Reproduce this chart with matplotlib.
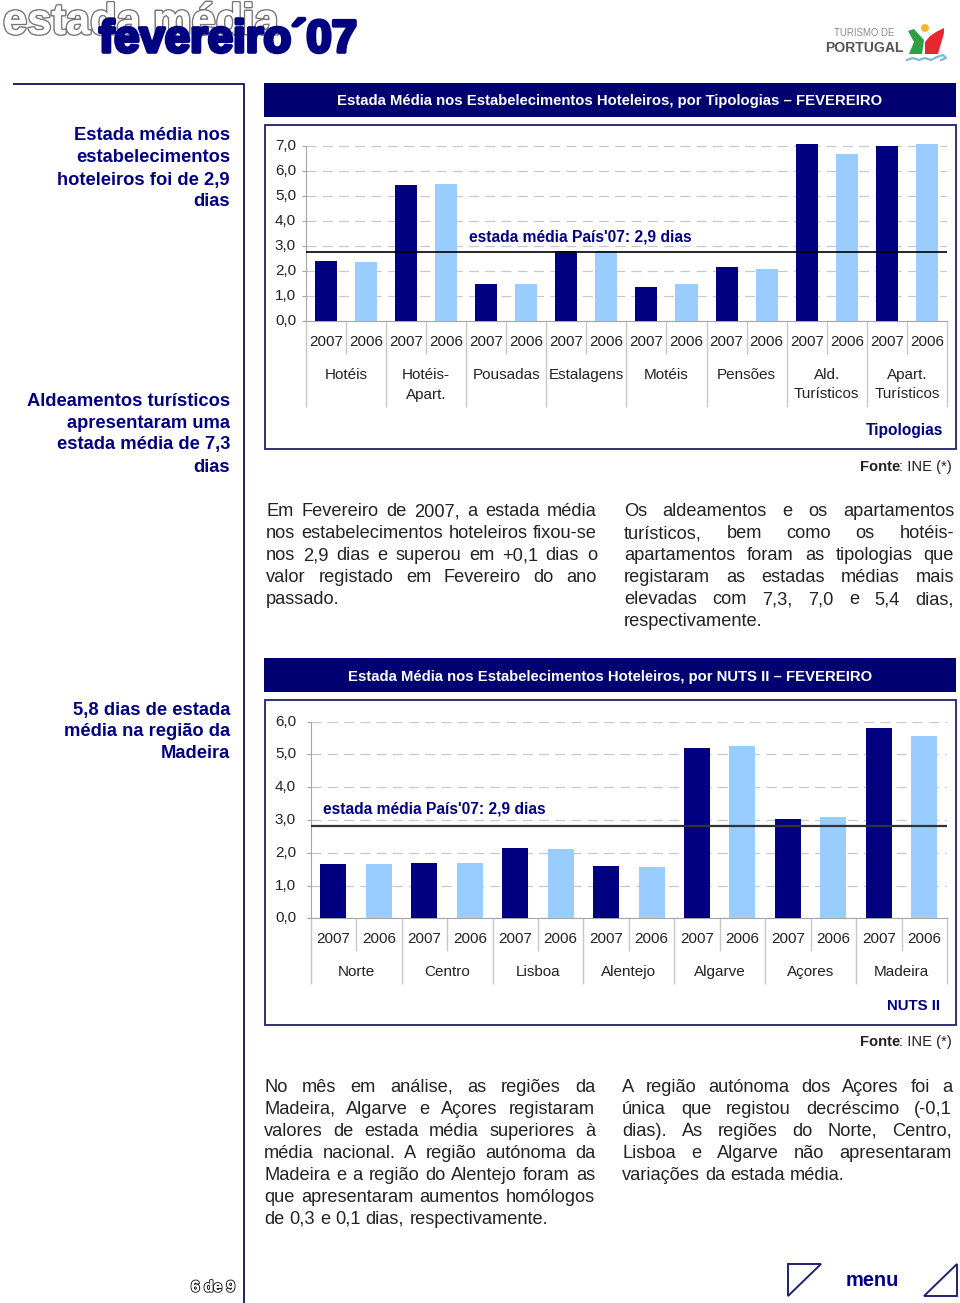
import matplotlib
matplotlib.use("Agg")
import matplotlib.pyplot as plt
import matplotlib.patheffects as pe
from matplotlib.patches import Polygon, Rectangle, Circle
from matplotlib.transforms import ScaledTranslation

W, H = 960, 1303
NAVY = "#000080"
LIGHT = "#99ccff"
FRAME = "#20206e"
GRID = "#c8c8c8"
AXIS = "#a6a6a6"
TEXT = "#222222"

# dados
tip_groups = ["Hotéis", "Hotéis-\nApart.", "Pousadas", "Estalagens", "Motéis", "Pensões", "Ald.\nTurísticos", "Apart.\nTurísticos"]
tip_2007 = [2.41, 5.45, 1.48, 2.80, 1.37, 2.15, 7.10, 7.00]
tip_2006 = [2.36, 5.50, 1.48, 2.80, 1.48, 2.08, 6.67, 7.10]
tip_ticks = [0, 1, 2, 3, 4, 5, 6, 7]
tip_media = 2.75

nuts_groups = ["Norte", "Centro", "Lisboa", "Alentejo", "Algarve", "Açores", "Madeira"]
nuts_2007 = [1.65, 1.70, 2.15, 1.60, 5.21, 3.04, 5.80]
nuts_2006 = [1.65, 1.70, 2.10, 1.56, 5.26, 3.08, 5.56]
nuts_ticks = [0, 1, 2, 3, 4, 5, 6]
nuts_media = 2.82

years = ["2007", "2006"]
media_label = "estada média País'07: 2,9 dias"

title_tip = "Estada Média nos Estabelecimentos Hoteleiros, por Tipologias – FEVEREIRO"
title_nuts = "Estada Média nos Estabelecimentos Hoteleiros, por NUTS II – FEVEREIRO"

side_1 = ["Estada média nos", "estabelecimentos", "hoteleiros foi de 2,9", "dias"]
side_2 = ["Aldeamentos turísticos", "apresentaram uma", "estada média de 7,3", "dias"]
side_3 = ["5,8 dias de estada", "média na região da", "Madeira"]

body_1 = ["Em Fevereiro de 2007, a estada média", "nos estabelecimentos hoteleiros fixou-se",
          "nos 2,9 dias e superou em +0,1 dias o", "valor registado em Fevereiro do ano", "passado."]
body_2 = ["Os aldeamentos e os apartamentos", "turísticos, bem como os hotéis-",
          "apartamentos foram as tipologias que", "registaram as estadas médias mais",
          "elevadas com 7,3, 7,0 e 5,4 dias,", "respectivamente."]
body_3 = ["No mês em análise, as regiões da", "Madeira, Algarve e Açores registaram",
          "valores de estada média superiores à", "média nacional. A região autónoma da",
          "Madeira e a região do Alentejo foram as", "que apresentaram aumentos homólogos",
          "de 0,3 e 0,1 dias, respectivamente."]
body_4 = ["A região autónoma dos Açores foi a", "única que registou decréscimo (-0,1",
          "dias). As regiões do Norte, Centro,", "Lisboa e Algarve não apresentaram",
          "variações da estada média."]

plt.rcParams["font.family"] = ["Liberation Sans", "DejaVu Sans"]

fig = plt.figure(figsize=(W / 100, H / 100), dpi=100)
bg = fig.add_axes([0, 0, 1, 1])
bg.set_xlim(0, W)
bg.set_ylim(H, 0)
bg.axis("off")


def px(size):
    return size * 0.72


def justified(lines, x0, x1, y0, step=22, size=18.3):
    renderer = fig.canvas.get_renderer()
    for i, line in enumerate(lines):
        words = line.split()
        items = [bg.text(x0, y0 + i * step, w, fontsize=px(size), color=TEXT, va="center") for w in words]
        widths = [t.get_window_extent(renderer).width for t in items]
        if i == len(lines) - 1 or len(words) < 2:
            gap = size * 0.278
        else:
            gap = (x1 - x0 - sum(widths)) / (len(words) - 1)
        x = x0
        for t, w in zip(items, widths):
            t.set_x(x)
            x += w + gap


def chart(left, right, y0, y_top, ymax, groups, v07, v06, ticks, media, line_kw, label_x, label_px, bar_w,
          minor_px, major_px, second_px, tick_right):
    ax = fig.add_axes([left / W, 1 - y0 / H, (right - left) / W, (y0 - y_top) / H])
    ax.patch.set_alpha(0)
    n = len(groups)
    pos07 = [2 * i for i in range(n)]
    pos06 = [2 * i + 1 for i in range(n)]
    ax.bar(pos07, v07, width=bar_w, color=NAVY, zorder=3)
    ax.bar(pos06, v06, width=bar_w, color=LIGHT, zorder=3)
    ax.axhline(media, zorder=4, **line_kw)
    ax.set_xlim(-0.5, 2 * n - 0.5)
    ax.set_ylim(0, ymax)
    ax.set_yticks(ticks)
    ax.set_yticklabels([f"{t},0" for t in ticks], fontsize=px(15.2), color=TEXT)
    ax.tick_params(axis="y", length=px(4), width=0.8, color=AXIS, pad=px(left - tick_right - 4))
    up = ScaledTranslation(0, 1.5 / 100, fig.dpi_scale_trans)
    for lab in ax.get_yticklabels():
        lab.set_transform(lab.get_transform() + up)
    ax.grid(axis="y", color=GRID, linewidth=0.9, linestyle=(0, (8, 5)), zorder=1)
    ax.set_axisbelow(True)
    for s in ["top", "right"]:
        ax.spines[s].set_visible(False)
    ax.spines["left"].set_color(AXIS)
    ax.spines["left"].set_bounds(ticks[0], ticks[-1])
    ax.spines["bottom"].set_color(AXIS)

    # anos e separadores por baixo do eixo
    slots = pos07 + pos06
    ax.set_xticks(sorted(slots))
    ax.set_xticklabels(years * n, fontsize=px(15.2), color=TEXT)
    ax.tick_params(axis="x", length=0, pad=px(14))
    h = y0 - y_top
    sep_major = [2 * i - 0.5 for i in range(n + 1)]
    sep_minor = [2 * i + 0.5 for i in range(n)]
    ax.vlines(sep_minor, 0, -minor_px / h, transform=ax.get_xaxis_transform(), color=GRID, lw=1, clip_on=False)
    ax.vlines(sep_major, 0, -major_px / h, transform=ax.get_xaxis_transform(), color=GRID, lw=1, clip_on=False)
    for i, g in enumerate(groups):
        ax.annotate(g, xy=(2 * i + 0.5, 0), xycoords=("data", "axes fraction"), xytext=(0, -second_px),
                    textcoords="offset pixels", ha="center", va="top", fontsize=px(15.2), color=TEXT,
                    linespacing=1.5)
    ax.text(label_x, label_px, media_label, transform=bg.transData, color=NAVY, fontweight="bold",
            fontsize=px(15.6), va="center", zorder=5)
    return ax


# titulo e logo
bg.text(3, 34, "estada média", fontsize=px(43.5), fontweight="bold",
        color="white", va="baseline", ha="left",
        path_effects=[pe.withStroke(linewidth=2.2, foreground="#777777"), pe.Normal()])
bg.text(99, 52, "fevereiro´07", fontsize=px(45.5), fontweight="bold",
        color=NAVY, va="baseline", ha="left",
        path_effects=[pe.withStroke(linewidth=2.6, foreground=NAVY)])

bg.text(894, 33, "TURISMO DE", fontsize=px(9.6), color="#8a8a8a", ha="right", va="center")
bg.text(904, 48, "PORTUGAL", fontsize=px(14), color="#555555", fontweight="bold", ha="right", va="center")
bg.add_patch(Circle((925, 28), 4, color="#f2b632", lw=0))
bg.add_patch(Polygon([(908, 31), (914, 29), (924, 40), (922, 54), (909, 54), (914, 42)], color="#2f9e44", lw=0))
bg.add_patch(Polygon([(944, 28), (944, 33), (938, 54), (925, 54), (925, 42), (930, 36), (936, 32)], color="#e8262d", lw=0))
bg.plot([907, 913, 919, 925, 931, 937, 943, 946, 941], [60, 58, 60, 58, 60, 57, 55, 58, 60], color="#7cb8d8", lw=1.6)

# linhas da coluna esquerda
bg.plot([14, 244, 244], [84, 84, H], color=FRAME, lw=1.4)

# cabecalhos e molduras
for y, title, cx in [(83, title_tip, 610), (658, title_nuts, 610)]:
    bg.add_patch(Rectangle((264, y), 692, 34, color="#000070", lw=0))
    bg.text(cx, y + 18.5, title, color="white", fontweight="bold", fontsize=px(14.85), ha="center", va="center")
for y0, y1 in [(125, 449), (700, 1025)]:
    bg.add_patch(Rectangle((265, y0), 690.5, y1 - y0, fill=False, edgecolor=FRAME, lw=1.3))

# graficos
chart(305.8, 947, 321, 143.5, 7.1, tip_groups, tip_2007, tip_2006, tip_ticks, tip_media,
      dict(color="black", linewidth=1.2), 469, 237, 0.55, 33, 86, 47, 296)
chart(310.7, 947, 918.3, 721.7, 6.0, nuts_groups, nuts_2007, nuts_2006, nuts_ticks, nuts_media,
      dict(color="#333333", linewidth=1.6), 323, 809, 0.572, 33, 66, 47, 296)

bg.text(943, 431, "Tipologias", color=NAVY, fontweight="bold", fontsize=px(15.5), ha="right", va="center")
bg.text(940, 1006, "NUTS II", color=NAVY, fontweight="bold", fontsize=px(15), ha="right", va="center")
for y in [467, 1042]:
    bg.text(860, y, "Fonte", color=TEXT, fontweight="bold", fontsize=px(14.8), ha="left", va="center")
    bg.text(952, y, ": INE (*)", color=TEXT, fontsize=px(14.8), ha="right", va="center")

# textos laterais
for lines, y0 in [(side_1, 136), (side_2, 401), (side_3, 710)]:
    for i, s in enumerate(lines):
        bg.text(230, y0 + i * 22, s, color=NAVY, fontweight="bold", fontsize=px(18.4), ha="right", va="center")

justified(body_1, 266, 597, 512)
justified(body_2, 624, 954, 512)
justified(body_3, 264, 595, 1087)
justified(body_4, 622, 952, 1087)

# rodape
bg.text(213, 1287, "6 de 9", fontweight="bold", fontsize=px(15.5), color="white",
        ha="center", va="center", path_effects=[pe.withStroke(linewidth=1.6, foreground="#222222"), pe.Normal()])
bg.text(872, 1281, "menu", color=NAVY, fontweight="bold", fontsize=px(20), ha="center", va="center")
bg.add_patch(Polygon([(788, 1264), (821, 1264), (788, 1296)], fill=False, edgecolor=FRAME, lw=1.4))
bg.add_patch(Polygon([(957, 1264), (957, 1296), (924, 1296)], fill=False, edgecolor=FRAME, lw=1.4))

fig.savefig("out.png", dpi=100)
